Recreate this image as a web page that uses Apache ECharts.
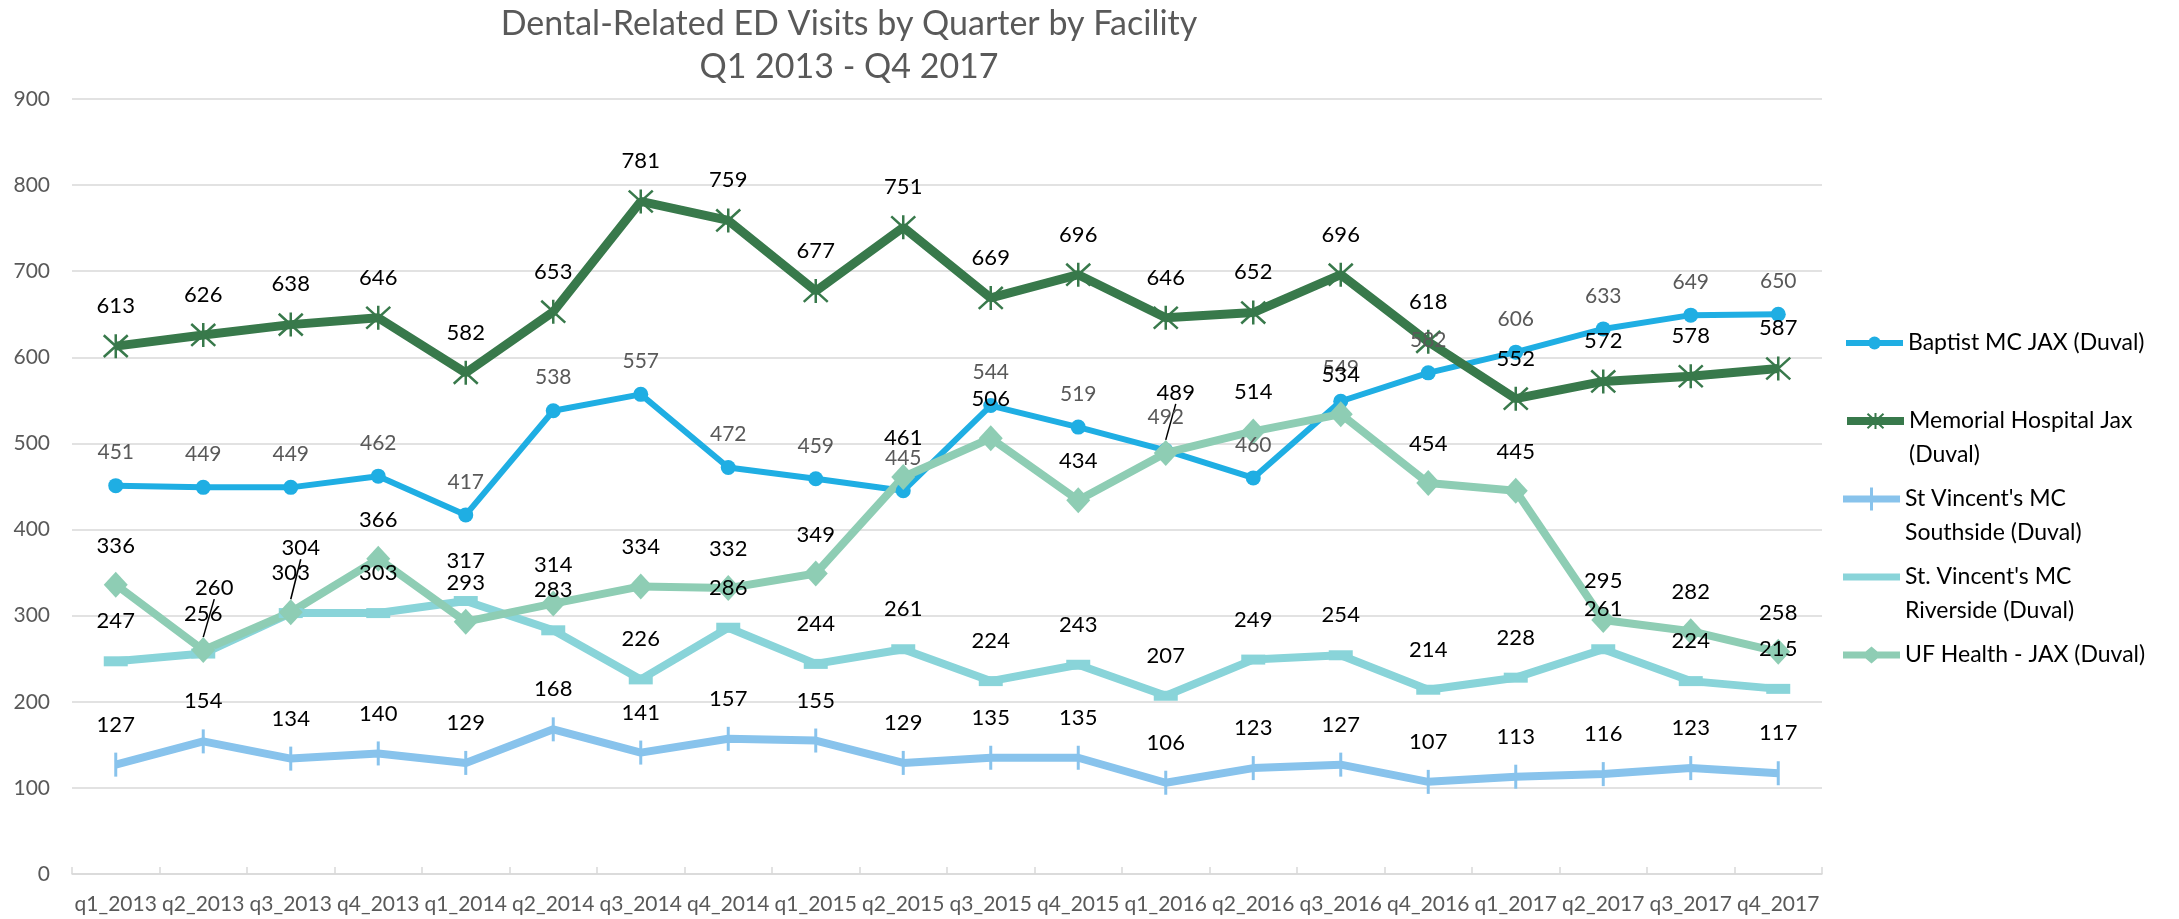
<!DOCTYPE html>
<html>
<head>
<meta charset="utf-8">
<script src="https://cdn.jsdelivr.net/npm/echarts@6/dist/echarts.min.js"></script>
<style>
html,body{margin:0;padding:0;background:#ffffff;}
#chart{width:2179px;height:919px;}
</style>
</head>
<body>
<div id="chart"></div>
<script>
// ---- data ----
const categories = ['q1_2013','q2_2013','q3_2013','q4_2013','q1_2014','q2_2014','q3_2014','q4_2014',
  'q1_2015','q2_2015','q3_2015','q4_2015','q1_2016','q2_2016','q3_2016','q4_2016',
  'q1_2017','q2_2017','q3_2017','q4_2017'];
const seriesNames = ['Baptist MC JAX (Duval)', 'Memorial Hospital Jax (Duval)',
  "St Vincent's MC Southside (Duval)", "St. Vincent's MC Riverside (Duval)", 'UF Health - JAX (Duval)'];
const baptist   = [451, 449, 449, 462, 417, 538, 557, 472, 459, 445, 544, 519, 492, 460, 549, 582, 606, 633, 649, 650];
const memorial  = [613, 626, 638, 646, 582, 653, 781, 759, 677, 751, 669, 696, 646, 652, 696, 618, 552, 572, 578, 587];
const southside = [127, 154, 134, 140, 129, 168, 141, 157, 155, 129, 135, 135, 106, 123, 127, 107, 113, 116, 123, 117];
const riverside = [247, 256, 303, 303, 317, 283, 226, 286, 244, 261, 224, 243, 207, 249, 254, 214, 228, 261, 224, 215];
const ufHealth  = [336, 260, 304, 366, 293, 314, 334, 332, 349, 461, 506, 434, 489, 514, 534, 454, 445, 295, 282, 258];
const yMin = 0, yMax = 900, yStep = 100;

// ---- styling / layout ----
const FONT = 'Lato, "Open Sans", sans-serif';
const legendLabels = {
  'Baptist MC JAX (Duval)': 'Baptist MC JAX (Duval)',
  'Memorial Hospital Jax (Duval)': '\nMemorial Hospital Jax\n(Duval)',
  "St Vincent's MC Southside (Duval)": "\nSt Vincent's MC\nSouthside (Duval)",
  "St. Vincent's MC Riverside (Duval)": "\nSt. Vincent's MC\nRiverside (Duval)",
  'UF Health - JAX (Duval)': 'UF Health - JAX (Duval)'
};
const legendCenters = [343, 421, 499, 577, 655];
const LH = 34;
// legend icon settings per series: [icon or null (series icon), itemHeight, line width]
const legendIcons = [
  [null, 16, 6],
  [null, 20, 8],
  ['path://M0,8h57v7h-57zM27,0h3v23h-3z', 23, 7],
  ['path://M0,0h57v7h-57z', 7, 7],
  ['path://M0,5h57v7h-57zM28.5,0L38.5,8.5L28.5,17L18.5,8.5Z', 17, 7]
];
// manually moved UF labels (dx, dy) as in the reference
const ufMoved = {1: [11, -23], 2: [10, -25], 12: [10, -21]};

const colors = ['#1FAEE3', '#38794B', '#88C3EC', '#89D4D9', '#8ECDB4'];
const asterisk = 'path://M0,0L20,20M20,0L0,20M10,-1L10,21';

function baseLabel(dist, color, size) {
  return {show: true, position: 'top', distance: dist, color: color, fontSize: size,
          lineHeight: size, fontFamily: FONT};
}

const legends = seriesNames.map(function (name, i) {
  const multi = legendLabels[name].indexOf('\n') >= 0;
  const cfg = legendIcons[i];
  const top = multi ? legendCenters[i] - 1.5 * LH : legendCenters[i] - Math.max(0.5 * LH, cfg[1] / 2);
  const lg = {
    data: [name],
    left: 1843,
    top: top,
    padding: 0,
    orient: 'vertical',
    itemWidth: 57,
    itemHeight: cfg[1],
    selectedMode: false,
    lineStyle: {width: cfg[2]},
    formatter: function (n) { return legendLabels[n]; },
    textStyle: {fontSize: 23, lineHeight: LH, color: '#000', fontFamily: FONT}
  };
  if (cfg[0]) lg.icon = cfg[0];
  return lg;
});

const ufData = ufHealth.map(function (v, i) {
  return ufMoved[i] ? {value: v, labelLine: {show: true, lineStyle: {color: '#000', width: 1.5}}} : v;
});

const option = {
  animation: false,
  backgroundColor: '#ffffff',
  color: colors,
  title: {
    text: 'Dental-Related ED Visits by Quarter by Facility\nQ1 2013 - Q4 2017',
    left: 849, top: 3, padding: 0,
    textAlign: 'center',
    textStyle: {fontSize: 34, lineHeight: 43, color: '#595959', fontWeight: 'normal', fontFamily: FONT}
  },
  legend: legends,
  grid: {left: 72, right: 357, top: 99, bottom: 45, containLabel: false},
  xAxis: {
    type: 'category',
    data: categories,
    boundaryGap: true,
    axisLine: {lineStyle: {color: '#D9D9D9', width: 1.5}},
    axisTick: {show: true, inside: true, length: 7, lineStyle: {color: '#D9D9D9', width: 1.5}},
    axisLabel: {interval: 0, fontSize: 21, color: '#595959', margin: 20, fontFamily: FONT}
  },
  yAxis: {
    type: 'value',
    min: yMin, max: yMax, interval: yStep,
    axisLine: {show: false},
    axisTick: {show: false},
    axisLabel: {fontSize: 21, color: '#595959', margin: 22, fontFamily: FONT},
    splitLine: {lineStyle: {color: '#D9D9D9', width: 1.5}}
  },
  series: [
    {
      name: seriesNames[0], type: 'line', data: baptist,
      symbol: 'circle', symbolSize: 15,
      lineStyle: {width: 6, color: colors[0]},
      itemStyle: {color: colors[0]},
      label: baseLabel(15, '#595959', 21),
      emphasis: {disabled: true}
    },
    {
      name: seriesNames[1], type: 'line', data: memorial,
      symbol: asterisk, symbolSize: 24,
      lineStyle: {width: 9, color: colors[1]},
      itemStyle: {color: colors[1], borderColor: colors[1], borderWidth: 2.5},
      label: baseLabel(16, '#000', 22),
      emphasis: {disabled: true}
    },
    {
      name: seriesNames[2], type: 'line', data: southside,
      symbol: 'rect', symbolSize: [3, 24],
      lineStyle: {width: 8, color: colors[2]},
      itemStyle: {color: colors[2]},
      label: baseLabel(17, '#000', 22),
      emphasis: {disabled: true}
    },
    {
      name: seriesNames[3], type: 'line', data: riverside,
      symbol: 'rect', symbolSize: [24, 10],
      lineStyle: {width: 8, color: colors[3]},
      itemStyle: {color: colors[3]},
      label: baseLabel(24, '#000', 22),
      emphasis: {disabled: true}
    },
    {
      name: seriesNames[4], type: 'line', data: ufData,
      symbol: 'diamond', symbolSize: [24, 26],
      lineStyle: {width: 8, color: colors[4]},
      itemStyle: {color: colors[4]},
      label: baseLabel(15, '#000', 22),
      labelLayout: function (p) {
        const m = ufMoved[p.dataIndex];
        return m ? {dx: m[0], dy: m[1]} : {};
      },
      emphasis: {disabled: true}
    }
  ]
};

const chart = echarts.init(document.getElementById('chart'), null, {renderer: 'canvas'});
chart.setOption(option);
</script>
</body>
</html>
